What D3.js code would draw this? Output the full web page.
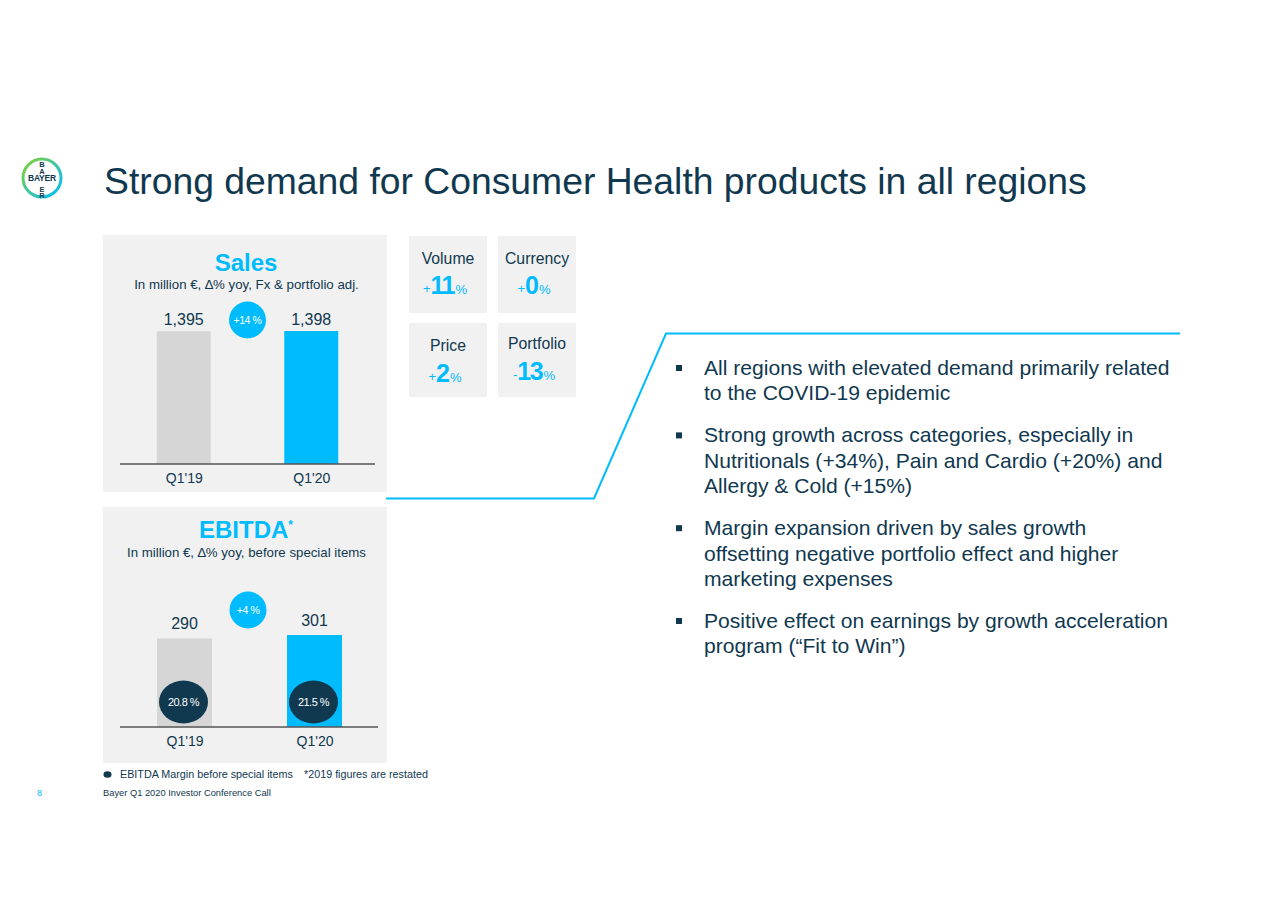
<!DOCTYPE html>
<html>
<head>
<meta charset="utf-8">
<script src="https://cdn.jsdelivr.net/npm/d3@7"></script>
<style>
  html, body { margin: 0; padding: 0; background: #ffffff; }
  svg { display: block; font-family: Arial, "Liberation Sans", sans-serif; }
</style>
</head>
<body>
<svg id="chart" width="1280" height="905"></svg>
<script>
// ---------------- data ----------------
const title = "Strong demand for Consumer Health products in all regions";
const categories = ["Q1'19", "Q1'20"];
const salesValues = [1395, 1398];
const salesGrowth = "+14 %";
const ebitdaValues = [290, 301];
const ebitdaGrowth = "+4 %";
const marginValues = [20.8, 21.5];
const driverLabels = ["Volume", "Currency", "Price", "Portfolio"];
const driverSigns = ["+", "+", "+", "-"];
const driverValues = [11, 0, 2, 13];
const bullets = [
  ["All regions with elevated demand primarily related", "to the COVID-19 epidemic"],
  ["Strong growth across categories, especially in", "Nutritionals (+34%), Pain and Cardio (+20%) and", "Allergy & Cold (+15%)"],
  ["Margin expansion driven by sales growth", "offsetting negative portfolio effect and higher", "marketing expenses"],
  ["Positive effect on earnings by growth acceleration", "program (\u201cFit to Win\u201d)"]
];

// ---------------- styles ----------------
const BLUE = "#00BCFF";
const NAVY = "#10384F";
const GRAY_BAR = "#D6D6D6";
const PANEL = "#F1F1F1";
const FONT = "Arial, 'Liberation Sans', sans-serif";

const svg = d3.select("#chart");

// fit a text element to a target width
function fitWidth(sel, base, target) {
  const w = sel.node().getComputedTextLength();
  sel.attr("font-size", base * target / w);
}

// ---------------- logo ----------------
const defs = svg.append("defs");
const grad = defs.append("linearGradient").attr("id", "ring")
  .attr("x1", "0%").attr("y1", "0%").attr("x2", "100%").attr("y2", "100%");
grad.append("stop").attr("offset", "0%").attr("stop-color", "#89D329");
grad.append("stop").attr("offset", "50%").attr("stop-color", "#3FC6A0");
grad.append("stop").attr("offset", "100%").attr("stop-color", BLUE);
const logo = svg.append("g").attr("transform", "translate(42,178)");
logo.append("circle").attr("r", 19).attr("fill", "#fff")
  .attr("stroke", "url(#ring)").attr("stroke-width", 3);
logo.append("text").attr("x", 0).attr("y", 3).attr("text-anchor", "middle")
  .attr("font-size", 8.5).attr("font-weight", "bold").attr("fill", NAVY)
  .attr("letter-spacing", -0.2).text("BAYER");
const vert = logo.append("text").attr("text-anchor", "middle")
  .attr("font-size", 7.5).attr("font-weight", "bold").attr("fill", NAVY);
[["B", -13], ["A", -6], ["E", 11.5], ["R", 18]].forEach(([c, dy]) => {
  vert.append("tspan").attr("x", 0).attr("y", dy + 2).text(c);
});

// ---------------- title ----------------
const t = svg.append("text").attr("x", 104).attr("y", 194)
  .attr("font-size", 36).attr("fill", NAVY).text(title);
fitWidth(t, 36, 983);

// ---------------- bar panels ----------------
function barPanel(cfg) {
  const g = svg.append("g");
  g.append("rect").attr("x", cfg.px).attr("y", cfg.py).attr("width", cfg.pw).attr("height", cfg.ph)
    .attr("fill", PANEL);

  const x = d3.scalePoint().domain(categories).range(cfg.xRange).padding(0.5);
  const y = d3.scaleLinear().domain([0, d3.max(cfg.values)]).range([cfg.axisY, cfg.topY]);

  g.selectAll("rect.bar").data(cfg.values).join("rect").attr("class", "bar")
    .attr("x", (d, i) => x(categories[i]) - cfg.bw / 2)
    .attr("y", d => y(d))
    .attr("width", cfg.bw)
    .attr("height", d => cfg.axisY - y(d))
    .attr("fill", (d, i) => i === 0 ? GRAY_BAR : BLUE);

  const axis = d3.axisBottom(x).tickSize(0).tickPadding(cfg.tickPad);
  const ag = g.append("g").attr("transform", `translate(0,${cfg.axisY})`).call(axis);
  ag.select(".domain").attr("d", `M${cfg.axisX0},0H${cfg.axisX1}`)
    .attr("stroke", "#555").attr("stroke-width", 1.3);
  ag.selectAll("text").attr("font-size", 14).attr("fill", NAVY).attr("font-family", FONT);

  g.selectAll("text.val").data(cfg.values).join("text").attr("class", "val")
    .attr("x", (d, i) => x(categories[i]))
    .attr("y", d => y(d) - cfg.labelOff)
    .attr("text-anchor", "middle").attr("font-size", 16).attr("fill", NAVY)
    .text(d => d3.format(",")(d));

  const bx = (x(categories[0]) + x(categories[1])) / 2 + cfg.badgeDx;
  g.append("circle").attr("cx", bx).attr("cy", cfg.badgeY).attr("r", 18.5).attr("fill", BLUE);
  g.append("text").attr("x", bx).attr("y", cfg.badgeY + 3.5).attr("text-anchor", "middle")
    .attr("font-size", 10.5).attr("fill", "#fff").attr("letter-spacing", -0.4).text(cfg.growth);

  const h = g.append("text").attr("x", cfg.headX).attr("y", cfg.headY).attr("text-anchor", "middle")
    .attr("font-size", 24).attr("font-weight", "bold").attr("fill", BLUE);
  h.append("tspan").text(cfg.heading);
  if (cfg.star) h.append("tspan").attr("font-size", 12).attr("dy", -9).text("*");
  const s = g.append("text").attr("x", cfg.subX).attr("y", cfg.subY).attr("text-anchor", "middle")
    .attr("font-size", 12).attr("fill", NAVY).text(cfg.sub);
  fitWidth(s, 12, cfg.subW);

  return { g, x, y };
}

barPanel({
  px: 103, py: 235, pw: 284, ph: 257,
  values: salesValues, xRange: [120, 375], axisY: 464, topY: 331,
  axisX0: 120, axisX1: 375, bw: 54, tickPad: 9, labelOff: 6,
  badgeY: 320, badgeDx: 0, growth: salesGrowth,
  heading: "Sales", headX: 246, headY: 271, star: false,
  sub: "In million \u20ac, \u2206% yoy, Fx & portfolio adj.", subX: 246.5, subY: 289, subW: 225
});

const eb = barPanel({
  px: 103, py: 507, pw: 284, ph: 256,
  values: ebitdaValues, xRange: [119.5, 379.5], axisY: 727, topY: 635,
  axisX0: 120, axisX1: 378, bw: 55, tickPad: 9, labelOff: 9,
  badgeY: 610, badgeDx: -1.5, growth: ebitdaGrowth,
  heading: "EBITDA", headX: 246, headY: 538, star: true,
  sub: "In million \u20ac, \u2206% yoy, before special items", subX: 246.5, subY: 557, subW: 239
});

eb.g.selectAll("ellipse.margin").data(marginValues).join("ellipse").attr("class", "margin")
  .attr("cx", (d, i) => eb.x(categories[i]) - 1)
  .attr("cy", 702).attr("rx", 24.5).attr("ry", 21.5).attr("fill", NAVY);
eb.g.selectAll("text.margin").data(marginValues).join("text").attr("class", "margin")
  .attr("x", (d, i) => eb.x(categories[i]) - 1)
  .attr("y", 706).attr("text-anchor", "middle").attr("font-size", 11)
  .attr("letter-spacing", -0.5).attr("fill", "#fff")
  .text(d => d3.format(".1f")(d) + " %");

// ---------------- legend / footer ----------------
svg.append("ellipse").attr("cx", 107.5).attr("cy", 774.5).attr("rx", 4).attr("ry", 3.3).attr("fill", NAVY);
const l1 = svg.append("text").attr("x", 120).attr("y", 778).attr("font-size", 10).attr("fill", NAVY)
  .text("EBITDA Margin before special items");
fitWidth(l1, 10, 173);
const l2 = svg.append("text").attr("x", 304).attr("y", 778).attr("font-size", 10).attr("fill", NAVY)
  .text("*2019 figures are restated");
fitWidth(l2, 10, 124);
svg.append("text").attr("x", 37).attr("y", 796).attr("font-size", 9).attr("fill", BLUE).text("8");
const f1 = svg.append("text").attr("x", 103).attr("y", 796).attr("font-size", 8).attr("fill", NAVY)
  .text("Bayer Q1 2020 Investor Conference Call");
fitWidth(f1, 8, 168);

// ---------------- driver boxes ----------------
const boxX = [409, 498, 409, 498];
const boxY = [236, 236, 323, 323];
const labelY = [264, 264, 351, 349];
const numY = [294, 294, 382, 380];
driverLabels.forEach((lab, i) => {
  const g = svg.append("g");
  g.append("rect").attr("x", boxX[i]).attr("y", boxY[i]).attr("width", 78).attr("height", i < 2 ? 77 : 74)
    .attr("fill", PANEL);
  const cx = boxX[i] + 39;
  g.append("text").attr("x", cx).attr("y", labelY[i]).attr("text-anchor", "middle")
    .attr("font-size", 15.8).attr("fill", NAVY).text(lab);
  const nt = g.append("text").attr("x", cx - 3).attr("y", numY[i]).attr("text-anchor", "middle")
    .attr("fill", BLUE);
  nt.append("tspan").attr("font-size", 13).attr("dy", -1).text(driverSigns[i]);
  nt.append("tspan").attr("font-size", 25).attr("font-weight", "bold").attr("dy", 1)
    .attr("letter-spacing", -1.5).text(driverValues[i]);
  nt.append("tspan").attr("font-size", 13).attr("dx", 1.5).text("%");
});

// ---------------- connector ----------------
svg.append("path")
  .attr("d", d3.line()([[386, 498.5], [594, 498.5], [666, 333.5], [1180, 333.5]]))
  .attr("fill", "none").attr("stroke", BLUE).attr("stroke-width", 2);

// ---------------- bullets ----------------
let by = 375;
bullets.forEach((lines, bi) => {
  svg.append("rect").attr("x", 676).attr("y", by - 10).attr("width", 6).attr("height", 6).attr("fill", NAVY);
  lines.forEach((ln, li) => {
    svg.append("text").attr("x", 704).attr("y", by + li * 25.4)
      .attr("font-size", 21.1).attr("fill", NAVY).text(ln);
  });
  by += (lines.length - 1) * 25.4 + 42;
});
</script>
</body>
</html>
